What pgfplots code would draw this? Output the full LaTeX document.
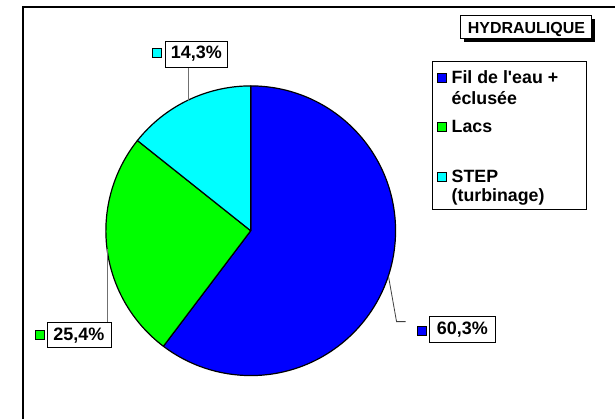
\documentclass[border=0pt]{standalone}
\usepackage{fontspec}
\setmainfont{Liberation Sans}
\usepackage{pgfplots}
\usepackage{pgfplotstable}
\pgfplotsset{compat=1.18}
\definecolor{pieblue}{HTML}{0000FF}
\definecolor{piegreen}{HTML}{00FF00}
\definecolor{piecyan}{HTML}{00FFFF}
\definecolor{leader}{HTML}{707070}

% parts of hydraulic production (%)
\pgfplotstableread{
part value
fil  60.3
lacs 25.4
step 14.3
}\hydro
\pgfplotstablegetelem{0}{value}\of\hydro \let\vA\pgfplotsretval
\pgfplotstablegetelem{1}{value}\of\hydro \let\vB\pgfplotsretval
\pgfplotstablegetelem{2}{value}\of\hydro \let\vC\pgfplotsretval
\pgfmathsetmacro{\aA}{90-3.6*\vA}
\pgfmathsetmacro{\aB}{\aA-3.6*\vB}
\pgfmathsetmacro{\aC}{\aB-3.6*\vC}

\newcommand\lf{\bfseries\fontsize{17.8}{20}\selectfont}
\newcommand\pf{\bfseries\fontsize{18}{20}\selectfont}

\begin{document}
\begin{tikzpicture}
\begin{axis}[
  x=1pt,y=1pt,y dir=reverse,
  xmin=0,xmax=616,ymin=0,ymax=419,
  hide axis,clip=false
]
\path (0,0) rectangle (616,419);
% frame
\draw[line width=1.4pt] (23,419) -- (23,7) -- (616,7);
% pie
\filldraw[fill=pieblue,draw=black,line width=1.2pt,line join=round]
  (251,231) -- ++(90:145pt) arc[start angle=90,end angle=\aA,radius=145pt] -- cycle;
\filldraw[fill=piegreen,draw=black,line width=1.2pt,line join=round]
  (251,231) -- ++(\aA:145pt) arc[start angle=\aA,end angle=\aB,radius=145pt] -- cycle;
\filldraw[fill=piecyan,draw=black,line width=1.2pt,line join=round]
  (251,231) -- ++(\aB:145pt) arc[start angle=\aB,end angle=\aC,radius=145pt] -- cycle;
% leader lines
\draw[leader,line width=0.8pt] (189,67) -- (189,101);
\draw[leader,line width=0.8pt] (108,323) -- (108,249);
\draw[black!75,line width=0.8pt] (389,277) -- (397,322) -- (406,322);
% value labels
\node[draw=black,fill=white,line width=0.6pt,minimum width=63pt,minimum height=26pt,inner sep=0pt,font=\pf] at (196.5,54) {14,3\%};
\node[draw=black,fill=white,line width=0.6pt,minimum width=64pt,minimum height=25pt,inner sep=0pt,font=\pf] at (79,335.5) {25,4\%};
\node[draw=black,fill=white,line width=0.6pt,minimum width=66pt,minimum height=26pt,inner sep=0pt,font=\pf] at (463,330) {60,3\%};
\filldraw[fill=piecyan,draw=black,line width=0.9pt] (152.5,49) rectangle (161.5,58);
\filldraw[fill=piegreen,draw=black,line width=0.9pt] (35,331) rectangle (44,340);
\filldraw[fill=pieblue,draw=black,line width=0.9pt] (417.5,327) rectangle (426.5,336);
% title box
\fill[black] (465,19) rectangle (596,42);
\draw[fill=white,line width=0.8pt] (461,15) rectangle (592,38);
\node[anchor=base,font=\bfseries\fontsize{16}{18}\selectfont] at (527,34) {HYDRAULIQUE};
% legend
\draw[fill=white,line width=0.9pt] (433,62) rectangle (587,210);
\filldraw[fill=pieblue,draw=black,line width=0.9pt] (438,74) rectangle (447,83);
\filldraw[fill=piegreen,draw=black,line width=0.9pt] (438,123) rectangle (447,132);
\filldraw[fill=piecyan,draw=black,line width=0.9pt] (438,173) rectangle (447,182);
\node[anchor=base west,inner sep=0pt,font=\lf] at (452,84) {Fil de l\textquotesingle eau +};
\node[anchor=base west,inner sep=0pt,font=\lf] at (452,105) {éclusée};
\node[anchor=base west,inner sep=0pt,font=\lf] at (452,133) {Lacs};
\node[anchor=base west,inner sep=0pt,font=\lf] at (452,183) {STEP};
\node[anchor=base west,inner sep=0pt,font=\lf] at (452,202) {(turbinage)};
\end{axis}
\end{tikzpicture}
\end{document}
